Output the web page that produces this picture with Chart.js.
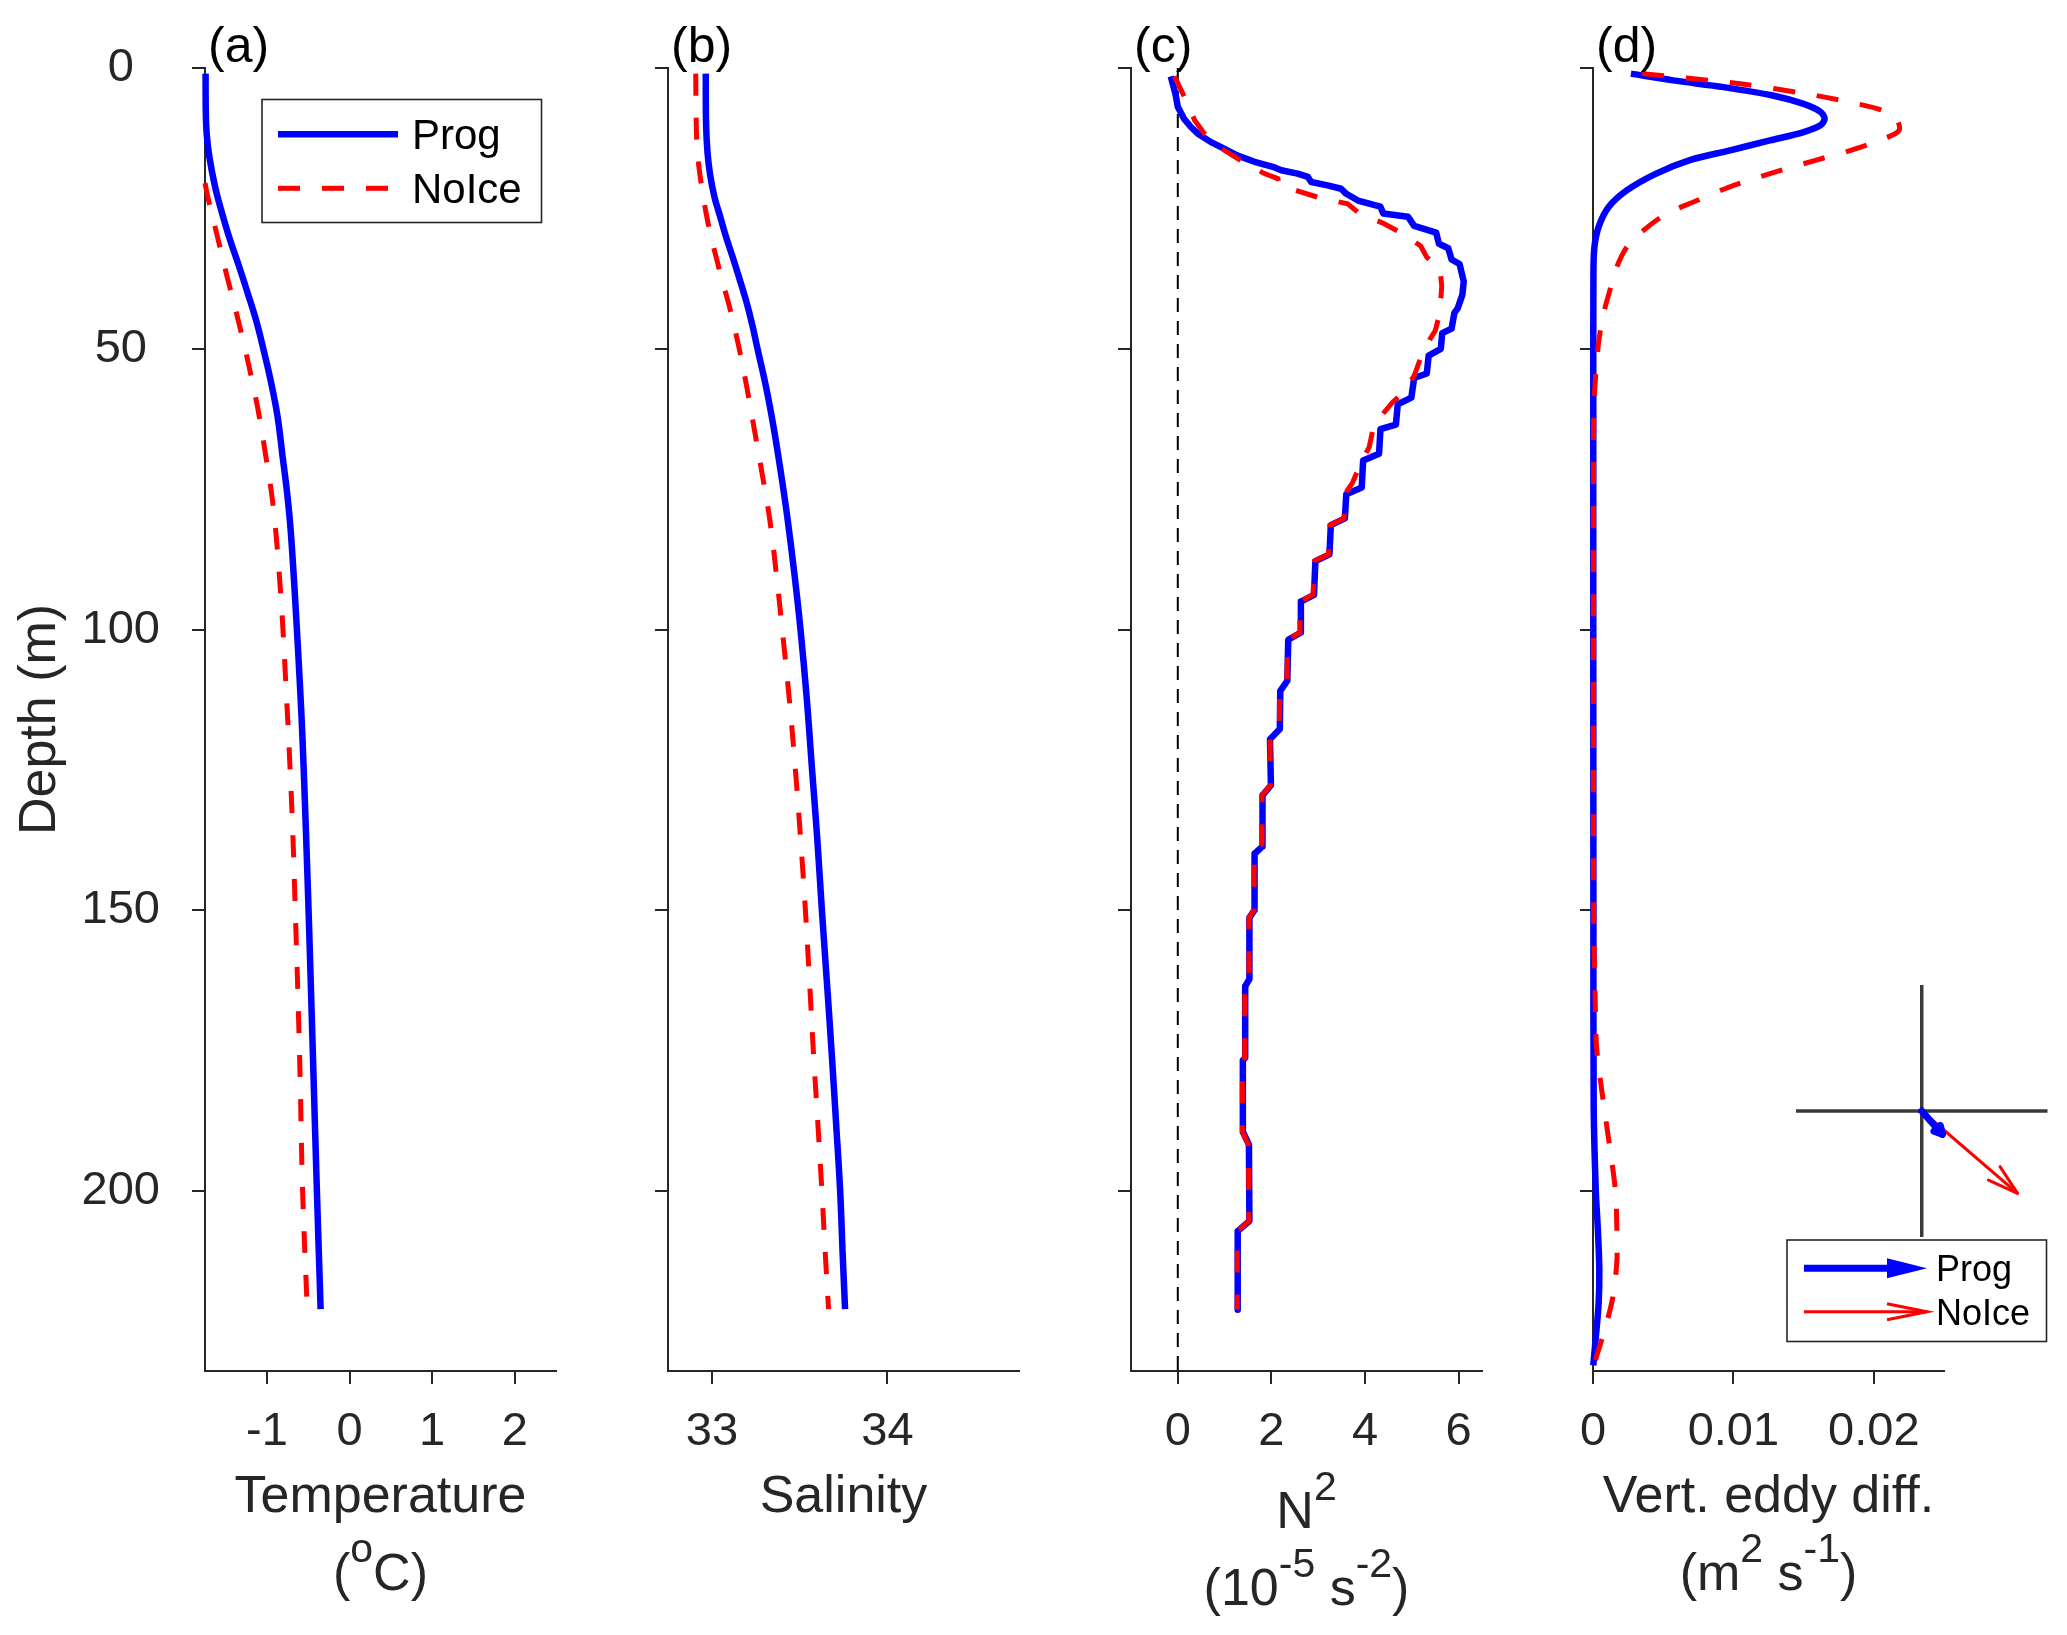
<!DOCTYPE html>
<html>
<head>
<meta charset="utf-8">
<script src="https://cdn.jsdelivr.net/npm/chart.js@4.4.1/dist/chart.umd.min.js"></script>
<style>
html,body{margin:0;padding:0;background:#ffffff;}
#wrap{position:relative;width:2067px;height:1635px;background:#ffffff;}
#wrap canvas{position:absolute;left:0;top:0;}
</style>
</head>
<body>
<div id="wrap">
<canvas id="cA" width="2067" height="1635"></canvas>
<canvas id="cB" width="2067" height="1635"></canvas>
<canvas id="cC" width="2067" height="1635"></canvas>
<canvas id="cD" width="2067" height="1635"></canvas>
<canvas id="cQ" width="2067" height="1635"></canvas>
</div>
<script>
// ---------------- DATA ----------------
const seriesNames = ['Prog', 'NoIce'];
const depthTicks = [0, 50, 100, 150, 200];
const depthTickLabels = ['0', '50', '100', '150', '200'];

const tempTicks = [-1, 0, 1, 2];
const tempTickLabels = ['-1', '0', '1', '2'];
const salTicks = [33, 34];
const salTickLabels = ['33', '34'];
const n2Ticks = [0, 2, 4, 6];
const n2TickLabels = ['0', '2', '4', '6'];
const kvTicks = [0, 0.01, 0.02];
const kvTickLabels = ['0', '0.01', '0.02'];

// (a) Temperature (deg C)
const tempProgDepth = [1, 8, 12, 16, 21, 25, 30, 35, 40, 45, 50, 56, 62, 69, 75, 81, 88, 98, 110, 120, 135, 150, 165, 180, 200, 221];
const tempProg = [-1.743, -1.74, -1.728, -1.695, -1.63, -1.56, -1.46, -1.345, -1.235, -1.13, -1.044, -0.95, -0.872, -0.812, -0.761, -0.72, -0.686, -0.645, -0.60, -0.568, -0.53, -0.496, -0.465, -0.435, -0.395, -0.35];
const tempNoIceDepth = [20.5, 24, 30, 37, 43, 50, 56, 62, 69, 75, 81, 88, 98, 110, 120, 135, 150, 165, 180, 200, 220];
const tempNoIce = [-1.75, -1.70, -1.60, -1.485, -1.38, -1.265, -1.175, -1.093, -1.015, -0.951, -0.903, -0.862, -0.814, -0.77, -0.735, -0.69, -0.657, -0.625, -0.598, -0.568, -0.515];

// (b) Salinity
const salDepth = [1, 10, 15, 19, 23, 26, 30, 34, 38, 42, 46, 50, 57, 64, 72, 80, 90, 100, 112, 125, 137, 150, 163, 176, 188, 200, 211, 221];
const salProg = [32.965, 32.967, 32.975, 32.99, 33.015, 33.043, 33.08, 33.122, 33.162, 33.20, 33.232, 33.26, 33.31, 33.352, 33.393, 33.43, 33.47, 33.505, 33.54, 33.571, 33.60, 33.627, 33.656, 33.684, 33.708, 33.731, 33.745, 33.759];
const salNoIce = [32.908, 32.911, 32.918, 32.932, 32.952, 32.968, 32.995, 33.027, 33.06, 33.096, 33.127, 33.156, 33.20, 33.24, 33.285, 33.328, 33.367, 33.401, 33.44, 33.476, 33.505, 33.533, 33.557, 33.58, 33.604, 33.627, 33.646, 33.665];

// (c) N^2 (1e-5 s^-2)
const n2ProgDepth = [1.5, 4.6, 6.9, 9.0, 10.5, 11.7, 13.2, 14.4, 15.6, 16.7, 17.6, 18.2, 18.8, 19.4, 20.3, 20.9, 21.5, 22.4, 23.6, 24.7, 25.9, 26.5, 28.1, 29.3, 31.3, 32.1, 34.1, 34.9, 38, 40.4, 42.8, 43.6, 46.4, 47.2, 50, 51.2, 54.4, 55.2, 58.7, 59.9, 63.5, 64.3, 68.7, 69.9, 74.7, 75.9, 80.2, 81.4, 86.6, 87.8, 93.8, 95, 100.5, 101.8, 109.1, 110.9, 117.7, 119.5, 127.7, 129.5, 138.6, 139.9, 149.9, 151.3, 162.2, 163.5, 176.2, 176.7, 189.4, 191.7, 205.3, 207.1, 221.1];
const n2Prog = [-0.15, -0.05, 0.0, 0.13, 0.28, 0.43, 0.71, 1.0, 1.28, 1.64, 2.03, 2.21, 2.56, 2.78, 2.85, 3.2, 3.49, 3.6, 3.85, 4.33, 4.39, 4.92, 5.05, 5.52, 5.58, 5.78, 5.85, 6.02, 6.11, 6.08, 5.98, 5.91, 5.85, 5.65, 5.62, 5.36, 5.32, 5.05, 4.99, 4.70, 4.66, 4.33, 4.30, 3.96, 3.93, 3.60, 3.57, 3.27, 3.24, 2.94, 2.91, 2.63, 2.63, 2.36, 2.34, 2.19, 2.18, 1.97, 1.99, 1.81, 1.81, 1.64, 1.64, 1.53, 1.53, 1.44, 1.44, 1.39, 1.39, 1.52, 1.53, 1.28, 1.28];
const n2NoIceDepth = [1.5, 4.6, 9.3, 11.7, 14.7, 16.5, 18.8, 19.7, 20.9, 22.1, 23.0, 24.2, 25.7, 27.7, 29.7, 31.7, 33.7, 35.7, 38.8, 43.6, 46.8, 48.4, 51.6, 54.8, 58, 59.5, 63.5, 67.5, 70, 73.9, 75.5, 80.2, 81.4, 86.6, 87.8, 93.8, 95, 100.5, 101.8, 109.1, 110.9, 117.7, 119.5, 127.7, 129.5, 138.6, 139.9, 149.9, 151.3, 162.2, 163.5, 176.2, 176.7, 189.4, 191.7, 205.3, 207.1, 221.1];
const n2NoIce = [-0.07, 0.11, 0.36, 0.57, 1.0, 1.35, 1.85, 2.14, 2.17, 2.64, 2.99, 3.63, 3.85, 4.40, 4.85, 5.19, 5.32, 5.60, 5.64, 5.60, 5.50, 5.38, 5.19, 5.05, 4.79, 4.59, 4.19, 4.09, 3.93, 3.73, 3.60, 3.55, 3.25, 3.22, 2.92, 2.89, 2.61, 2.61, 2.35, 2.33, 2.18, 2.17, 1.97, 1.98, 1.80, 1.80, 1.63, 1.63, 1.52, 1.52, 1.43, 1.43, 1.38, 1.38, 1.51, 1.52, 1.27, 1.27];
const n2ZeroLineDepth = [0, 232];
const n2ZeroLine = [0, 0];

// (d) Vertical eddy diffusivity (m^2 s^-1)
const kvProgDepth = [1, 2.2, 3.4, 4.9, 6.4, 7.8, 9.0, 10.2, 11.4, 12.9, 14.7, 16.4, 18.8, 21.8, 24.8, 28.3, 31.9, 36.7, 60, 100, 150, 185, 200, 207, 214, 220, 226, 231];
const kvProg = [0.0027, 0.0057, 0.0093, 0.0128, 0.0150, 0.0162, 0.0165, 0.0162, 0.0150, 0.0126, 0.0097, 0.0069, 0.0045, 0.0024, 0.0011, 0.0004, 0.0001, 0.00003, 0.00002, 0.00002, 0.00003, 0.00005, 0.0002, 0.00035, 0.00045, 0.0004, 0.0002, 0.00002];
const kvNoIceDepth = [1, 2.8, 4.6, 6.1, 7.6, 9.0, 11.1, 12.6, 14.7, 16.4, 18.8, 21.2, 23.6, 26.0, 28.9, 31.9, 35.4, 39.6, 44.3, 49.7, 57.4, 62.2, 100, 150, 165, 174.5, 183.4, 192.3, 200, 207, 212.5, 219, 225, 229, 231];
const kvNoIce = [0.0035, 0.0105, 0.0152, 0.0183, 0.0207, 0.0216, 0.0218, 0.0207, 0.0183, 0.0159, 0.0126, 0.0097, 0.0074, 0.0052, 0.0036, 0.0024, 0.0017, 0.0012, 0.0007, 0.00036, 0.00012, 0.00005, 0.00003, 0.00005, 0.00015, 0.00026, 0.0007, 0.0012, 0.0016, 0.0017, 0.0017, 0.0014, 0.0008, 0.0003, 0.0001];

// Inset vectors (u, v)
const vecU = [0.164, 0.762];   // Prog, NoIce
const vecV = [-0.185, -0.654];
const crossX = [-1, 1];
const crossY = [-1, 1];

// ---------------- STYLE ----------------
const FONT = '"Liberation Sans", Arial, Helvetica, sans-serif';
const AX = '#262626';
const BLUE = '#0000ff';
const RED = '#ff0000';
const PAGE_W = 2067, PAGE_H = 1635;
const TOP = 68, BOTTOM = 1371;
const XH = 120;

function pts(xs, ys) { return xs.map((v, i) => ({ x: v, y: ys[i] })); }

function progDs(depth, vals) {
  return { label: seriesNames[0], data: pts(vals, depth), borderColor: BLUE, borderWidth: 6.5,
    tension: 0.4, pointRadius: 0, clip: false, order: 2, fill: false, borderJoinStyle: 'round' };
}
function noIceDs(depth, vals) {
  return { label: seriesNames[1], data: pts(vals, depth), borderColor: RED, borderWidth: 5,
    borderDash: [22, 22], tension: 0.4, pointRadius: 0, clip: false, order: 1, fill: false };
}

// ---------------- PLUGINS ----------------
const xTitlePlugin = {
  id: 'xTitle',
  afterDraw(chart, args, o) {
    if (!o || !o.lines) return;
    const ctx = chart.ctx;
    const ca = chart.chartArea;
    const cx = (ca.left + ca.right) / 2;
    ctx.save();
    ctx.fillStyle = AX;
    ctx.textBaseline = 'alphabetic';
    ctx.textAlign = 'left';
    o.lines.forEach((segs, i) => {
      const base = o.baselines[i];
      let w = 0;
      const ws = segs.map(s => {
        ctx.font = (s.sup ? o.supSize : o.size) + 'px ' + FONT;
        const m = ctx.measureText(s.t).width; w += m; return m;
      });
      let x = cx - w / 2;
      segs.forEach((s, j) => {
        ctx.font = (s.sup ? o.supSize : o.size) + 'px ' + FONT;
        ctx.fillText(s.t, x, s.sup ? base - o.supRaise : base);
        x += ws[j];
      });
    });
    ctx.restore();
  }
};

const panelLabelPlugin = {
  id: 'panelLabel',
  afterDraw(chart, args, o) {
    if (!o || !o.text) return;
    const ctx = chart.ctx;
    ctx.save();
    ctx.font = o.size + 'px ' + FONT;
    ctx.fillStyle = '#000';
    ctx.textBaseline = 'alphabetic';
    ctx.textAlign = 'left';
    ctx.fillText(o.text, chart.chartArea.left + o.dx, o.baseline);
    ctx.restore();
  }
};

const boxLegendPlugin = {
  id: 'boxLegend',
  afterDraw(chart, args, o) {
    if (!o || !o.box) return;
    const ctx = chart.ctx;
    const [x0, y0, x1, y1] = o.box;
    ctx.save();
    ctx.fillStyle = '#fff';
    ctx.fillRect(x0, y0, x1 - x0, y1 - y0);
    ctx.strokeStyle = AX;
    ctx.lineWidth = 1.6;
    ctx.strokeRect(x0, y0, x1 - x0, y1 - y0);
    const dsList = chart.data.datasets.filter(d => seriesNames.includes(d.label));
    o.rows.forEach((ry, i) => {
      const ds = dsList.find(d => d.label === seriesNames[i]);
      ctx.strokeStyle = ds.borderColor;
      ctx.lineWidth = ds.borderWidth;
      ctx.setLineDash(ds.borderDash || []);
      ctx.beginPath();
      ctx.moveTo(o.lineX[0], ry);
      ctx.lineTo(o.lineX[1], ry);
      ctx.stroke();
      ctx.setLineDash([]);
      ctx.fillStyle = '#000';
      ctx.font = o.size + 'px ' + FONT;
      ctx.textBaseline = 'alphabetic';
      ctx.fillText(seriesNames[i], o.textX, ry + o.size * 0.358);
    });
    ctx.restore();
  }
};

function drawHead(ctx, tx, ty, ang, len, spread, filled) {
  const ax = tx - len * Math.cos(ang - spread), ay = ty - len * Math.sin(ang - spread);
  const bx = tx - len * Math.cos(ang + spread), by = ty - len * Math.sin(ang + spread);
  ctx.beginPath();
  ctx.moveTo(ax, ay); ctx.lineTo(tx, ty); ctx.lineTo(bx, by);
  if (filled) { ctx.closePath(); ctx.fill(); } else { ctx.stroke(); }
}

const arrowPlugin = {
  id: 'arrowHeads',
  afterDatasetsDraw(chart) {
    const ctx = chart.ctx;
    chart.data.datasets.forEach((ds, i) => {
      if (!ds.arrowHead) return;
      const meta = chart.getDatasetMeta(i);
      const p0 = meta.data[0], p1 = meta.data[meta.data.length - 1];
      const ang = Math.atan2(p1.y - p0.y, p1.x - p0.x);
      ctx.save();
      ctx.strokeStyle = ds.borderColor;
      ctx.fillStyle = ds.borderColor;
      ctx.lineWidth = ds.arrowHead.width;
      ctx.lineCap = 'round';
      ctx.lineJoin = 'round';
      drawHead(ctx, p1.x, p1.y, ang, ds.arrowHead.len, ds.arrowHead.spread, false);
      ctx.restore();
    });
  }
};

const quiverLegendPlugin = {
  id: 'quiverLegend',
  afterDraw(chart, args, o) {
    if (!o || !o.box) return;
    const ctx = chart.ctx;
    const [x0, y0, x1, y1] = o.box;
    ctx.save();
    ctx.fillStyle = '#fff';
    ctx.fillRect(x0, y0, x1 - x0, y1 - y0);
    ctx.strokeStyle = AX;
    ctx.lineWidth = 1.6;
    ctx.strokeRect(x0, y0, x1 - x0, y1 - y0);
    // Prog: thick arrow with filled head
    let ry = o.rows[0];
    ctx.strokeStyle = BLUE; ctx.fillStyle = BLUE; ctx.lineWidth = 7;
    ctx.beginPath(); ctx.moveTo(o.lineX[0], ry); ctx.lineTo(o.headX, ry); ctx.stroke();
    ctx.beginPath(); ctx.moveTo(o.headX, ry - 10); ctx.lineTo(o.lineX[1], ry); ctx.lineTo(o.headX, ry + 10); ctx.closePath(); ctx.fill();
    // NoIce: thin arrow with open head
    ry = o.rows[1];
    ctx.strokeStyle = RED; ctx.lineWidth = 3;
    ctx.beginPath(); ctx.moveTo(o.lineX[0], ry); ctx.lineTo(o.lineX[1], ry); ctx.stroke();
    ctx.beginPath(); ctx.moveTo(o.headX, ry - 8); ctx.lineTo(o.lineX[1], ry); ctx.lineTo(o.headX, ry + 8); ctx.stroke();
    ctx.fillStyle = '#000';
    ctx.font = o.size + 'px ' + FONT;
    ctx.textBaseline = 'alphabetic';
    o.rows.forEach((r, i) => ctx.fillText(seriesNames[i], o.textX, r + o.size * 0.358));
    ctx.restore();
  }
};

// ---------------- PANELS ----------------
function makePanel(id, cfg) {
  const yW = cfg.yW;
  return new Chart(document.getElementById(id), {
    type: 'line',
    data: { datasets: cfg.datasets },
    options: {
      responsive: false, animation: false, devicePixelRatio: 1,
      indexAxis: 'y',
      events: [],
      layout: { padding: { left: cfg.left - yW, right: PAGE_W - cfg.right, top: TOP, bottom: PAGE_H - BOTTOM - XH } },
      plugins: {
        legend: { display: false }, tooltip: { enabled: false },
        xTitle: cfg.title,
        panelLabel: { text: cfg.label, size: 50, dx: 3, baseline: 62 },
        boxLegend: cfg.legend || {}
      },
      scales: {
        x: {
          type: 'linear', position: 'bottom', min: cfg.xMin, max: cfg.xMax,
          afterFit: s => { s.height = XH; },
          afterBuildTicks: s => { s.ticks = cfg.xTicks.map(v => ({ value: v })); },
          grid: { display: true, drawOnChartArea: false, drawTicks: true, tickLength: 13, color: AX, lineWidth: 2 },
          border: { display: true, color: AX, width: 2 },
          ticks: { font: { family: FONT, size: 47 }, color: AX, padding: 20, maxRotation: 0, autoSkip: false,
                   callback: (v, i) => cfg.xLabels[i] }
        },
        y: {
          type: 'linear', position: 'left', reverse: true, min: 0, max: 232,
          afterFit: s => { s.width = yW; },
          afterBuildTicks: s => { s.ticks = depthTicks.map(v => ({ value: v })); },
          grid: { display: true, drawOnChartArea: false, drawTicks: true, tickLength: 13, color: AX, lineWidth: 2 },
          border: { display: true, color: AX, width: 2 },
          ticks: { display: cfg.showY, font: { family: FONT, size: 47 }, color: AX, padding: 32, crossAlign: 'center',
                   autoSkip: false, callback: (v, i) => depthTickLabels[i] },
          title: { display: cfg.showY, text: 'Depth (m)', font: { family: FONT, size: 52 }, color: AX, padding: { top: 9, bottom: 0 } }
        }
      }
    },
    plugins: [xTitlePlugin, panelLabelPlugin, boxLegendPlugin]
  });
}

const titleBase = { size: 52, supSize: 41, supRaise: 28 };

makePanel('cA', {
  left: 205, right: 556, yW: 205, showY: true, label: '(a)',
  xMin: -1.75, xMax: 2.5, xTicks: tempTicks, xLabels: tempTickLabels,
  datasets: [progDs(tempProgDepth, tempProg), noIceDs(tempNoIceDepth, tempNoIce)],
  title: Object.assign({ lines: [[{ t: 'Temperature' }], [{ t: '(' }, { t: 'o', sup: true }, { t: 'C)' }]], baselines: [1512, 1590] }, titleBase),
  legend: { box: [262, 99.5, 541.5, 222.5], rows: [134.3, 188.3], lineX: [278, 398], textX: 412, size: 42 }
});

makePanel('cB', {
  left: 668, right: 1019, yW: 20, showY: false, label: '(b)',
  xMin: 32.75, xMax: 34.75, xTicks: salTicks, xLabels: salTickLabels,
  datasets: [progDs(salDepth, salProg), noIceDs(salDepth, salNoIce)],
  title: Object.assign({ lines: [[{ t: 'Salinity' }]], baselines: [1512] }, titleBase)
});

const zeroDs = { label: 'zero', data: pts(n2ZeroLine, n2ZeroLineDepth), borderColor: '#000', borderWidth: 2,
  borderDash: [14, 9], pointRadius: 0, clip: false, order: 3, fill: false };
const n2ProgDs = progDs(n2ProgDepth, n2Prog); n2ProgDs.tension = 0;
const n2NoIceDs = noIceDs(n2NoIceDepth, n2NoIce); n2NoIceDs.tension = 0;

makePanel('cC', {
  left: 1131, right: 1482, yW: 20, showY: false, label: '(c)',
  xMin: -1, xMax: 6.5, xTicks: n2Ticks, xLabels: n2TickLabels,
  datasets: [n2ProgDs, n2NoIceDs, zeroDs],
  title: Object.assign({ lines: [[{ t: 'N' }, { t: '2', sup: true }], [{ t: '(10' }, { t: '-5', sup: true }, { t: ' s' }, { t: '-2', sup: true }, { t: ')' }]], baselines: [1528, 1605] }, titleBase)
});

const kvProgDs = progDs(kvProgDepth, kvProg); kvProgDs.tension = 0.3;
const kvNoIceDs = noIceDs(kvNoIceDepth, kvNoIce); kvNoIceDs.tension = 0.3;

makePanel('cD', {
  left: 1593, right: 1944, yW: 20, showY: false, label: '(d)',
  xMin: 0, xMax: 0.025, xTicks: kvTicks, xLabels: kvTickLabels,
  datasets: [kvProgDs, kvNoIceDs],
  title: Object.assign({ lines: [[{ t: 'Vert. eddy diff.' }], [{ t: '(m' }, { t: '2', sup: true }, { t: ' s' }, { t: '-1', sup: true }, { t: ')' }]], baselines: [1512, 1590] }, titleBase)
});

// ---------------- INSET (quiver) ----------------
new Chart(document.getElementById('cQ'), {
  type: 'line',
  data: {
    datasets: [
      { label: seriesNames[0], data: [{ x: 0, y: 0 }, { x: vecU[0], y: vecV[0] }], borderColor: BLUE, borderWidth: 7,
        borderCapStyle: 'round', pointRadius: 0, clip: false, order: 1, arrowHead: { len: 9, spread: 0.5, width: 7 } },
      { label: seriesNames[1], data: [{ x: 0, y: 0 }, { x: vecU[1], y: vecV[1] }], borderColor: RED, borderWidth: 3,
        pointRadius: 0, clip: false, order: 2, arrowHead: { len: 32, spread: 0.28, width: 3 } },
      { label: 'h', data: [{ x: crossX[0], y: 0 }, { x: crossX[1], y: 0 }], borderColor: '#3a3a3a', borderWidth: 3.5, pointRadius: 0, clip: false, order: 3 },
      { label: 'v', data: [{ x: 0, y: crossY[0] }, { x: 0, y: crossY[1] }], borderColor: '#3a3a3a', borderWidth: 3.5, pointRadius: 0, clip: false, order: 3 }
    ]
  },
  options: {
    responsive: false, animation: false, devicePixelRatio: 1, events: [],
    layout: { padding: { left: 1796, right: PAGE_W - 2047.5, top: 985, bottom: PAGE_H - 1237 } },
    plugins: {
      legend: { display: false }, tooltip: { enabled: false },
      quiverLegend: { box: [1787, 1240, 2046.5, 1341.5], rows: [1268.3, 1311.7], lineX: [1804, 1927], headX: 1887, textX: 1936, size: 36 }
    },
    scales: {
      x: { type: 'linear', display: false, min: -1, max: 1 },
      y: { type: 'linear', display: false, min: -1, max: 1 }
    }
  },
  plugins: [arrowPlugin, quiverLegendPlugin]
});
</script>
</body>
</html>
